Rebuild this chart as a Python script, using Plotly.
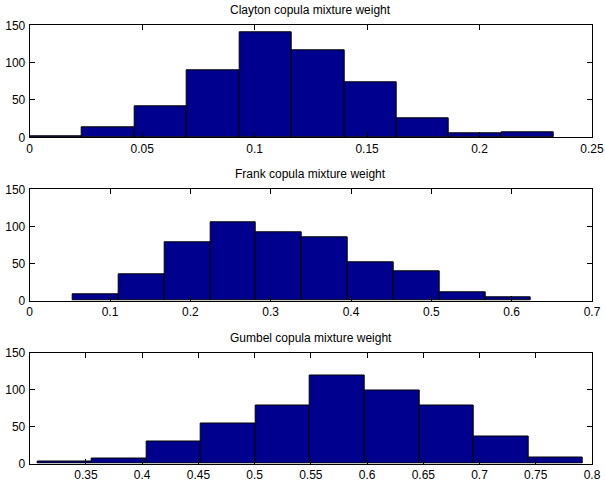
import plotly.graph_objects as go

# ---------------- data ----------------
titles = ["Clayton copula mixture weight",
          "Frank copula mixture weight",
          "Gumbel copula mixture weight"]

clayton_counts = [2, 13, 41, 90, 140, 116, 73, 25, 6, 7]
frank_counts = [9, 35, 78, 106, 92, 85, 52, 40, 11, 4]
gumbel_counts = [3, 7, 30, 54, 78, 119, 98, 78, 37, 8]

# data range covered by the 10 equal-width histogram bins
clayton_range = [0.0, 0.2331]
frank_range = [0.0538, 0.6242]
gumbel_range = [0.3070, 0.7918]

clayton_xticks = [0, 0.05, 0.1, 0.15, 0.2, 0.25]
clayton_xlabels = ["0", "0.05", "0.1", "0.15", "0.2", "0.25"]
frank_xticks = [0, 0.1, 0.2, 0.3, 0.4, 0.5, 0.6, 0.7]
frank_xlabels = ["0", "0.1", "0.2", "0.3", "0.4", "0.5", "0.6", "0.7"]
gumbel_xticks = [0.35, 0.4, 0.45, 0.5, 0.55, 0.6, 0.65, 0.7, 0.75, 0.8]
gumbel_xlabels = ["0.35", "0.4", "0.45", "0.5", "0.55", "0.6", "0.65", "0.7", "0.75", "0.8"]
x_limits = [[0, 0.25], [0, 0.7], [0.3, 0.8]]

y_ticks = [0, 50, 100, 150]
y_labels = ["0", "50", "100", "150"]
y_limits = [0, 150]

# ---------------- figure ----------------
W, H = 605, 481
FONT = "Liberation Sans, Arial, Helvetica, sans-serif"
BAR_COLOR = "#00008F"

panels = [
    (clayton_counts, clayton_range, clayton_xticks, clayton_xlabels),
    (frank_counts, frank_range, frank_xticks, frank_xlabels),
    (gumbel_counts, gumbel_range, gumbel_xticks, gumbel_xlabels),
]

# axes boxes in pixels (top, bottom)
x_px = (29.7, 592.0)
y_px = [(25.3, 137.3), (189.3, 300.7), (352.5, 463.5)]

fig = go.Figure()

for i, (counts, rng, xt, xl) in enumerate(panels):
    n = len(counts)
    w = (rng[1] - rng[0]) / n
    centers = [rng[0] + w * (k + 0.5) for k in range(n)]
    sfx = "" if i == 0 else str(i + 1)
    fig.add_trace(go.Bar(
        x=centers, y=counts, width=[w] * n,
        marker=dict(color=BAR_COLOR, line=dict(color="black", width=1)),
        xaxis="x" + sfx, yaxis="y" + sfx, showlegend=False,
        hoverinfo="x+y",
    ))

    xd = [x_px[0] / W, x_px[1] / W]
    yd = [1 - y_px[i][1] / H, 1 - y_px[i][0] / H]
    common = dict(
        showline=True, linecolor="black", linewidth=1, mirror="allticks",
        ticks="inside", ticklen=5, tickwidth=1, tickcolor="black",
        showgrid=False, zeroline=False, automargin=False,
        tickfont=dict(family=FONT, size=12, color="black"),
    )
    fig.update_layout(**{
        "xaxis" + sfx: dict(domain=xd, range=x_limits[i], anchor="y" + sfx,
                            tickmode="array", tickvals=xt, ticktext=xl,
                            ticklabelstandoff=0, **common),
        "yaxis" + sfx: dict(domain=yd, range=y_limits, anchor="x" + sfx,
                            tickmode="array", tickvals=y_ticks, ticktext=y_labels,
                            ticklabelstandoff=1, **common),
    })
    fig.add_annotation(
        text=titles[i], xref="paper", yref="paper",
        x=(xd[0] + xd[1]) / 2, y=yd[1] + 15 / H,
        xanchor="center", yanchor="middle", showarrow=False,
        font=dict(family=FONT, size=12, color="black"),
    )

fig.update_layout(
    width=W, height=H, margin=dict(l=0, r=0, t=0, b=0, pad=0),
    paper_bgcolor="white", plot_bgcolor="white",
    bargap=0, barmode="overlay",
)

fig.write_html(
    "out.html",
    config={"displayModeBar": False},
    post_script="document.body.style.margin='0';document.body.style.padding='0';"
                "document.body.style.overflow='hidden';",
)
